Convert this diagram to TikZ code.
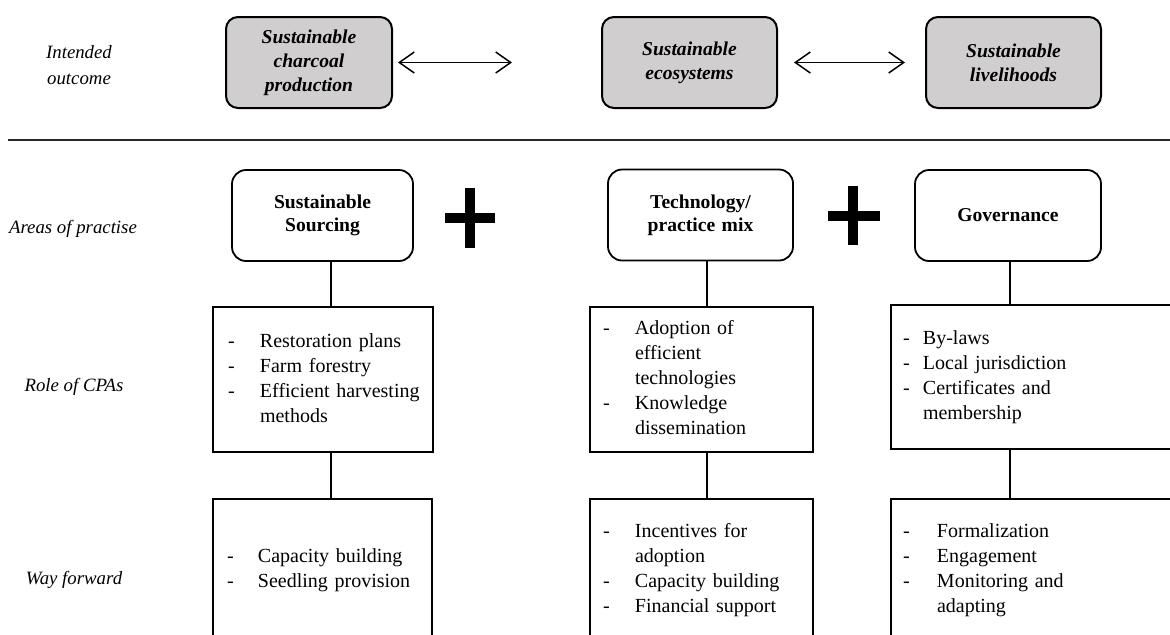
\documentclass[tikz,border=0pt]{standalone}
\usepackage{fontspec}
\setmainfont{Liberation Serif}
\usepackage{xcolor}
\usepackage{tikz}
\usetikzlibrary{positioning, arrows.meta}
\definecolor{boxgray}{HTML}{D0CECE}

% dash list inside the plain boxes: left offset, dash column, rows
\newcommand{\dashlist}[3][7pt]{%
  \begin{tabular}{@{\hspace{#1}}p{#2}@{}l@{}}#3\end{tabular}}

\begin{document}
\begin{tikzpicture}[x=0.5pt, y=-0.5pt,
    every node/.style={font=\fontsize{10}{12.5}\selectfont},
    outcome/.style={draw, line width=1pt, fill=boxgray, rounded corners=6pt,
      inner xsep=0pt, minimum height=45.5pt, align=center,
      font=\fontsize{9.8}{12}\selectfont\bfseries\itshape},
    area/.style={draw, line width=0.9pt, rounded corners=7pt,
      inner xsep=0pt, minimum height=45.5pt, align=center,
      font=\fontsize{9.8}{11.5}\selectfont\bfseries},
    listbox/.style={draw, line width=0.9pt, inner xsep=0pt, align=left},
    rowlabel/.style={align=center, font=\fontsize{9.4}{13}\selectfont\itshape},
    link/.style={line width=0.8pt},
    both/.style={line width=0.75pt,
      {Straight Barb[length=7.5pt,width=10.5pt]}-{Straight Barb[length=7.5pt,width=10.5pt]}},
    plus/.style={line width=5pt}]
  \useasboundingbox (0,0) rectangle (1170,634);
  \clip (0,0) rectangle (1170,634);

  % row labels
  \node[rowlabel] (lo) at (79,65) {Intended\\outcome};
  \node[rowlabel] (la) at (73,229) {Areas of practise};
  \node[rowlabel] (lr) at (74,387) {Role of CPAs};
  \node[rowlabel] (lw) at (74,580) {Way forward};

  % intended outcomes
  \node[outcome, text width=83pt] (oa) at (309,62.5)
    {Sustainable\\charcoal\\production};
  \node[outcome, text width=87.5pt] (ob) at (689.5,62.5)
    {Sustainable\\ecosystems};
  \node[outcome, text width=87.5pt] (oc) at (1013.5,62.5)
    {Sustainable\\livelihoods};
  \draw[both] ([xshift=2.5pt]oa.east) -- ([xshift=-44.5pt]ob.west);
  \draw[both] ([xshift=8pt]ob.east) -- ([xshift=-10pt]oc.west);

  \draw[line width=0.8pt, black!85] (8,140) -- (1170,140);

  % areas of practise
  \node[area, text width=90.5pt] (sa) at (322.5,215.5)
    {Sustainable\\Sourcing};
  \node[area, text width=92.5pt] (sb) at (700.5,215)
    {Technology/\\practice mix};
  \node[area, text width=93pt] (sc) at (1008,215.5) {Governance};
  \draw[plus] (470,188) -- (470,248) (445,218) -- (495,218);
  \draw[plus] (853,186) -- (853,245) (828,216) -- (880,216);

  % role of CPAs
  \node[listbox, text width=110pt, minimum height=72.5pt] (ra) at (323,379.5)
    {\dashlist[7.5pt]{16pt}{- & Restoration plans\\ - & Farm forestry\\
      - & Efficient harvesting\\ & methods}};
  \node[listbox, text width=111.5pt, minimum height=72.5pt] (rb) at (701.5,379.5)
    {\dashlist[6.5pt]{16pt}{- & Adoption of\\ & efficient\\ & technologies\\
      - & Knowledge\\ & dissemination}};
  \node[listbox, text width=150pt, minimum height=72pt] (rc) at (1041,377)
    {\dashlist[6pt]{10pt}{- & By-laws\\ - & Local jurisdiction\\
      - & Certificates and\\ & membership}};

  % way forward
  \node[listbox, text width=109.5pt, minimum height=71pt] (wa) at (322.5,570)
    {\dashlist[7pt]{15.5pt}{- & Capacity building\\ - & Seedling provision}};
  \node[listbox, text width=111.5pt, minimum height=71pt] (wb) at (701.5,570)
    {\dashlist[6.5pt]{16pt}{- & Incentives for\\ & adoption\\
      - & Capacity building\\ - & Financial support}};
  \node[listbox, text width=150pt, minimum height=71pt] (wc) at (1041,570)
    {\dashlist[6pt]{17pt}{- & Formalization\\ - & Engagement\\
      - & Monitoring and\\ & adapting}};

  \foreach \a/\r/\w/\x in {sa/ra/wa/331, sb/rb/wb/707, sc/rc/wc/1010} {
    \draw[link] (\a.south -| \x,0) -- (\r.north -| \x,0);
    \draw[link] (\r.south -| \x,0) -- (\w.north -| \x,0);
  }
\end{tikzpicture}
\end{document}
